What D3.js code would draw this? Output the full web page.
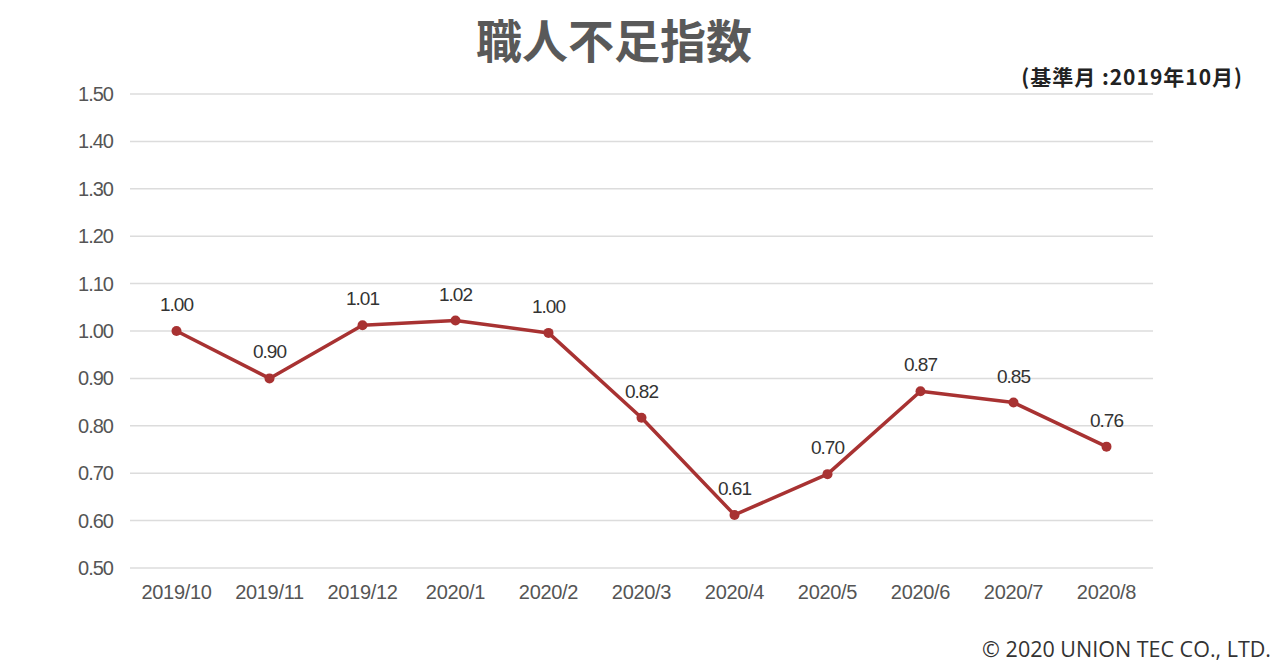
<!DOCTYPE html>
<html><head><meta charset="utf-8">
<script src="https://cdn.jsdelivr.net/npm/d3@7"></script>
<style>body{margin:0;background:#fff;}svg{display:block;}</style>
</head><body>
<script>
const categories = ["2019/10","2019/11","2019/12","2020/1","2020/2","2020/3","2020/4","2020/5","2020/6","2020/7","2020/8"];
const values = [1.00, 0.90, 1.012, 1.022, 0.996, 0.817, 0.612, 0.698, 0.873, 0.849, 0.756];
const yTicks = [0.5,0.6,0.7,0.8,0.9,1.0,1.1,1.2,1.3,1.4,1.5];
const title = "職人不足指数";
const subtitle = "(基準月 :2019年10月)";
const credit = "© 2020 UNION TEC CO., LTD.";

const W = 1280, H = 670;
const svg = d3.select("body").append("svg").attr("width", W).attr("height", H);
const x = d3.scaleBand().domain(categories).range([130, 1153]);
const y = d3.scaleLinear().domain([0.5, 1.5]).range([568, 94]);
const font = "'Liberation Sans', Arial, sans-serif";

svg.append("g").selectAll("line").data(yTicks).join("line")
  .attr("x1", 130).attr("x2", 1153)
  .attr("y1", d => y(d)).attr("y2", d => y(d))
  .attr("stroke", "#dcdcdc").attr("stroke-width", 1.5);

const yAxis = svg.append("g").attr("transform", "translate(130,0)")
  .call(d3.axisLeft(y).tickValues(yTicks).tickFormat(d3.format(".2f")).tickSize(0).tickPadding(17));
yAxis.select(".domain").remove();
yAxis.selectAll("text").attr("font-family", font).attr("font-size", 20).attr("fill", "#555").attr("letter-spacing", "-1px");

const xAxis = svg.append("g").attr("transform", "translate(0,568)")
  .call(d3.axisBottom(x).tickSize(0).tickPadding(17));
xAxis.select(".domain").remove();
xAxis.selectAll("text").attr("font-family", font).attr("font-size", 20).attr("fill", "#555").attr("letter-spacing", "-0.3px");

const cx = d => x(d) + x.bandwidth() / 2;
const line = d3.line().x((d, i) => cx(categories[i])).y(d => y(d));
svg.append("path").datum(values).attr("d", line)
  .attr("fill", "none").attr("stroke", "#a83232").attr("stroke-width", 3.5).attr("stroke-linejoin", "round");
svg.append("g").selectAll("circle").data(values).join("circle")
  .attr("cx", (d, i) => cx(categories[i])).attr("cy", d => y(d)).attr("r", 5).attr("fill", "#a83232");
svg.append("g").selectAll("text").data(values).join("text")
  .attr("x", (d, i) => cx(categories[i])).attr("y", d => y(d) - 20)
  .attr("text-anchor", "middle").attr("font-family", font).attr("font-size", 19)
  .attr("fill", "#333").attr("letter-spacing", "-1px")
  .text(d => d3.format(".2f")(d));

svg.append("text").attr("x", 614).attr("y", 58).attr("text-anchor", "middle")
  .attr("font-family", "'Noto Sans CJK JP', sans-serif").attr("font-weight", "bold")
  .attr("font-size", 46).attr("fill", "#595959").text(title);
svg.append("text").attr("x", 1243).attr("y", 85).attr("text-anchor", "end")
  .attr("font-family", "'Noto Sans CJK JP', sans-serif").attr("font-weight", "bold")
  .attr("font-size", 21).attr("fill", "#222").attr("letter-spacing", "1px").text(subtitle);
svg.append("text").attr("x", 1271).attr("y", 657).attr("text-anchor", "end")
  .attr("font-family", "'Open Sans', 'Noto Sans', sans-serif")
  .attr("font-size", 21.5).attr("fill", "#333").text(credit);
</script>
</body></html>
